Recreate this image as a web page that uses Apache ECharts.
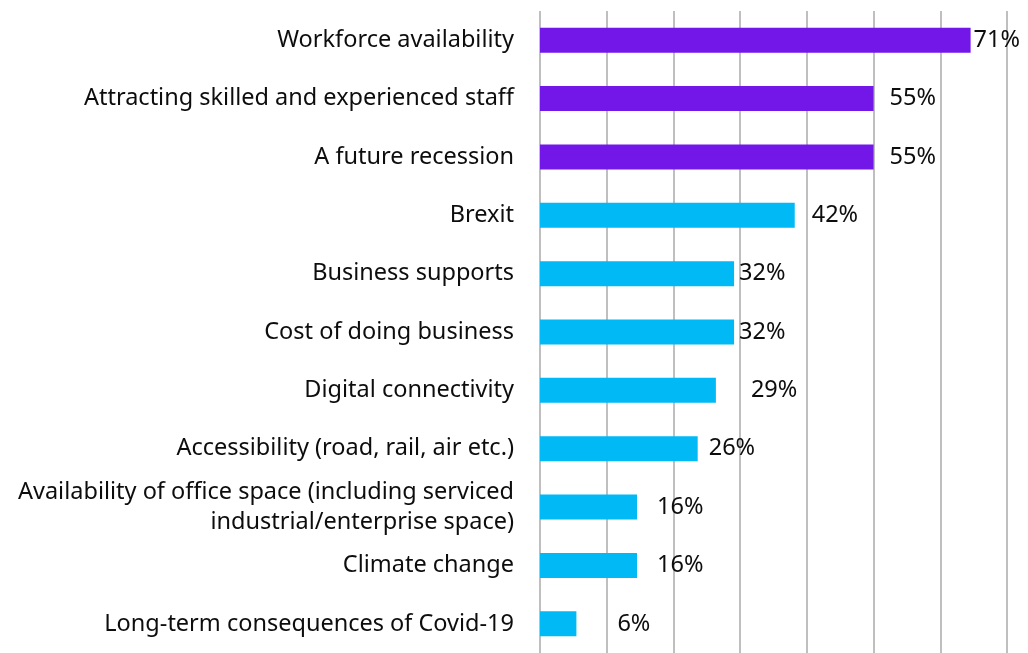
<!DOCTYPE html>
<html><head><meta charset="utf-8">
<script src="https://cdn.jsdelivr.net/npm/echarts@6/dist/echarts.min.js"></script>
<style>html,body{margin:0;padding:0;background:#fff}#c{width:1028px;height:653px}</style>
</head><body><div id="c"></div>
<script>
const categories = [
  "Workforce availability",
  "Attracting skilled and experienced staff",
  "A future recession",
  "Brexit",
  "Business supports",
  "Cost of doing business",
  "Digital connectivity",
  "Accessibility (road, rail, air etc.)",
  "Availability of office space (including serviced\nindustrial/enterprise space)",
  "Climate change",
  "Long-term consequences of Covid-19"
];
const values = [71, 55, 55, 42, 32, 32, 29, 26, 16, 16, 6];
const highlighted = [true, true, true, false, false, false, false, false, false, false, false];
// label gap (px) after each bar, as placed in the original
const labelGaps = [3, 16, 16, 17, 5, 5, 35, 11, 20, 20, 41];

const FONT = "Noto Sans";
const chart = echarts.init(document.getElementById('c'));
chart.setOption({
  animation: false,
  grid: { left: 540, right: 21, top: 11, height: 648, containLabel: false },
  xAxis: {
    type: 'value', min: 0, max: 77, interval: 11,
    axisLabel: { show: false }, axisLine: { show: false }, axisTick: { show: false },
    splitLine: { show: true, lineStyle: { color: '#bfbfbf', width: 2 } }
  },
  yAxis: {
    type: 'category', data: categories, inverse: true,
    axisLine: { show: false }, axisTick: { show: false },
    axisLabel: { fontFamily: FONT, fontSize: 23.5, color: '#0d0d0d', margin: 26, lineHeight: 30, align: 'right' }
  },
  series: [{
    type: 'bar', barWidth: 25,
    data: values.map((v, i) => ({
      value: v,
      itemStyle: { color: highlighted[i] ? '#7317E8' : '#00B9F5' },
      label: { distance: labelGaps[i] }
    })),
    label: {
      show: true, position: 'right', formatter: '{c}%',
      fontFamily: FONT, fontSize: 23.5, color: '#0d0d0d'
    }
  }]
});
</script></body></html>
